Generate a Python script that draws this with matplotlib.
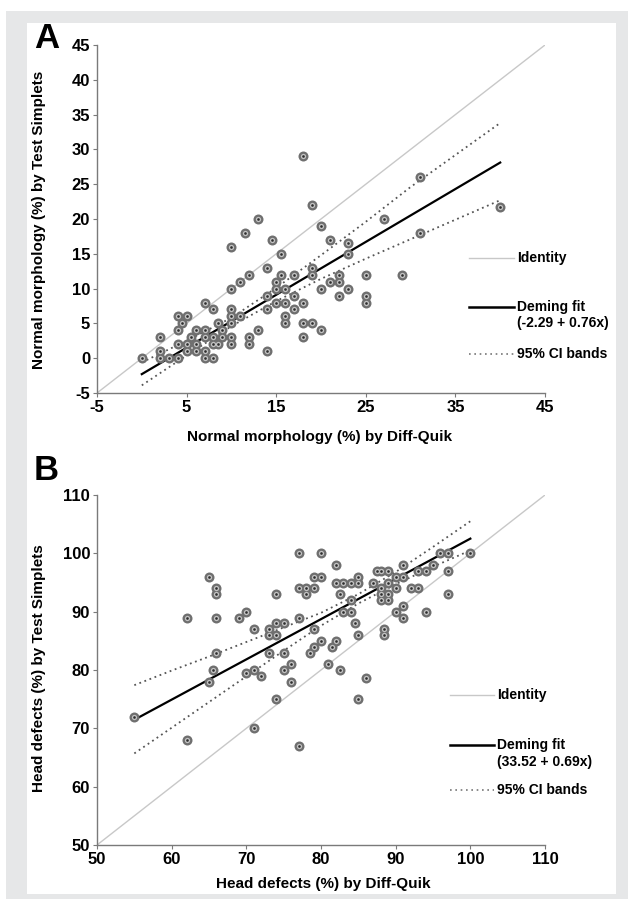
import matplotlib
matplotlib.use("Agg")
import matplotlib.pyplot as plt
from matplotlib.lines import Line2D
from matplotlib.patches import Rectangle
import numpy as np

plt.rcParams['font.family'] = ['Liberation Sans', 'DejaVu Sans']
plt.rcParams['font.weight'] = 'bold'
plt.rcParams['axes.unicode_minus'] = False

# ---------------- Panel A data ----------------
a_x = [0, 2, 2, 2, 3, 4, 4, 4, 4, 5, 4.5, 5, 5, 5.5, 6, 6, 6, 7, 7, 7, 7, 7, 8, 8, 8, 8,
       8.5, 8.5, 9, 9, 10, 10, 10, 10, 10, 10, 10, 11, 11, 11.5, 12, 12, 12, 13, 13,
       14, 14, 14, 14, 14.5, 15.5, 15.5, 15, 15, 15, 16, 16, 16, 16, 17, 17, 17,
       18, 18, 18, 18, 19, 19, 19, 19, 20, 20, 20, 21, 21, 22, 22, 22, 23, 23, 23,
       25, 25, 25, 27, 29, 31, 31, 40]
a_y = [0, 3, 1, 0, 0, 0, 2, 4, 6, 6, 5, 2, 1, 3, 4, 2, 1, 4, 3, 1, 8, 0, 0, 3, 2, 7,
       5, 2, 4, 3, 2, 3, 5, 6, 7, 10, 16, 6, 11, 18, 12, 3, 2, 20, 4,
       13, 9, 7, 1, 17, 15, 12, 11, 10, 8, 10, 8, 6, 5, 12, 9, 7,
       29, 8, 5, 3, 22, 13, 12, 5, 19, 10, 4, 17, 11, 12, 11, 9, 16.5, 15, 10,
       12, 9, 8, 20, 12, 26, 18, 21.7]
a_intercept, a_slope = -2.29, 0.76
a_fit_x = [0, 40]
a_ci_x = [0, 5, 10, 15, 20, 25, 30, 35, 40]
a_ci_upper = [-0.6, 2.5, 5.8, 10.1, 14.8, 19.6, 24.6, 29.2, 33.8]
a_ci_lower = [-3.9, 0.4, 4.6, 8.2, 11.4, 14.3, 17.1, 19.9, 22.7]
a_ticks = [-5, 0, 5, 10, 15, 20, 25, 30, 35, 40, 45]
a_xticks = [-5, 5, 15, 25, 35, 45]

# ---------------- Panel B data ----------------
b_x = [55, 62, 62, 65, 66, 66, 66, 66, 65.5, 65, 69, 70, 71, 71, 71, 70, 72, 73, 73, 73,
       74, 74, 74, 74, 75, 75, 75, 76, 76, 77, 77, 77, 77, 78, 78, 79, 79, 79, 79, 78.5,
       80, 80, 80, 81, 81.5, 82, 82, 82, 82.5, 82.5, 83, 83, 84, 84, 84, 84.5, 85, 85, 85,
       85, 86, 87, 87.5, 88, 88, 88, 88, 89, 89, 89, 89, 88.5, 88.5, 90, 90, 90, 91, 91,
       91, 91, 92, 93, 93, 94, 94, 95, 96, 97, 97, 97, 100]
b_y = [72, 89, 68, 96, 94, 93, 89, 83, 80, 78, 89, 90, 87, 80, 70, 79.5, 79, 87, 86, 83,
       93, 88, 86, 75, 88, 83, 80, 81, 78, 100, 94, 89, 67, 94, 93, 94, 96, 87, 84, 83,
       100, 96, 85, 81, 84, 98, 95, 85, 93, 80, 95, 90, 95, 92, 90, 88, 96, 95, 86,
       75, 78.6, 95, 97, 97, 94, 93, 92, 97, 95, 93, 92, 87, 86, 96, 94, 90, 98, 96,
       91, 89, 94, 97, 94, 97, 90, 98, 100, 100, 97, 93, 100]
b_intercept, b_slope = 33.52, 0.69
b_fit_x = [55, 100]
b_ci_x = [55, 60, 65, 70, 75, 80, 85, 90, 95, 100]
b_ci_upper = [77.4, 79.9, 82.3, 84.8, 87.3, 89.8, 93.0, 96.8, 101.1, 105.5]
b_ci_lower = [65.7, 70.1, 74.5, 78.9, 83.3, 87.6, 91.4, 94.7, 97.7, 100.5]
b_ticks = [50, 60, 70, 80, 90, 100, 110]

W, H = 628, 899
fig = plt.figure(figsize=(W / 100, H / 100), dpi=100)
fig.patch.set_facecolor('white')


def fx(px):
    return px / W


def fy(py):
    return 1 - py / H


# background frame
fig.add_artist(Rectangle((fx(6), fy(899)), fx(622), 888 / H, transform=fig.transFigure,
                         facecolor='#e6e7e8', edgecolor='none', zorder=-10))
fig.add_artist(Rectangle((fx(27), fy(894)), fx(589), 871 / H, transform=fig.transFigure,
                         facecolor='white', edgecolor='none', zorder=-9))

ax_a = fig.add_axes([fx(97), fy(393), fx(448), 348 / H])
ax_b = fig.add_axes([fx(97), fy(845), fx(448), 350 / H])

ident_c = '#c8c8c8'
ci_c = '#555555'


def style(ax, xlim, ylim, xticks, yticks):
    ax.set_xlim(*xlim)
    ax.set_ylim(*ylim)
    ax.set_xticks(xticks)
    ax.set_yticks(yticks)
    ax.patch.set_alpha(0)
    for s in ['top', 'right']:
        ax.spines[s].set_visible(False)
    for s in ['left', 'bottom']:
        ax.spines[s].set_color('#7a7a7a')
        ax.spines[s].set_linewidth(1.0)
    ax.tick_params(direction='out', length=3, width=0.8, color='#7a7a7a',
                   labelsize=12, pad=2)
    for lab in ax.get_xticklabels() + ax.get_yticklabels():
        lab.set_fontweight('bold')


def scatter(ax, x, y):
    ax.plot(x, y, 'o', ms=7.2, color='#6f6f6f', mec='none', zorder=5, clip_on=False)
    ax.plot(x, y, 'o', ms=3.8, color='#c4c4c4', mec='none', zorder=6, clip_on=False)
    ax.plot(x, y, 'o', ms=1.9, color='#2e2e2e', mec='none', zorder=7, clip_on=False)


# ---------------- Panel A ----------------
style(ax_a, (-5, 45), (-5, 45), a_xticks, a_ticks)
ax_a.plot([-5, 45], [-5, 45], color=ident_c, lw=1.0, zorder=2)
fx_a = np.array(a_fit_x, dtype=float)
ax_a.plot(fx_a, a_intercept + a_slope * fx_a, color='black', lw=1.6, zorder=3)
ax_a.plot(a_ci_x, a_ci_upper, color=ci_c, lw=1.3, ls=(0, (1, 2)), zorder=3)
ax_a.plot(a_ci_x, a_ci_lower, color=ci_c, lw=1.3, ls=(0, (1, 2)), zorder=3)
scatter(ax_a, a_x, a_y)
ax_a.set_xlabel('Normal morphology (%) by Diff-Quik', fontsize=11, fontweight='bold', va='center')
ax_a.set_ylabel('Normal morphology (%) by Test Simplets', fontsize=11, fontweight='bold', va='center')
ax_a.xaxis.set_label_coords((320 - 97) / 448, -(437 - 393) / 348)
ax_a.yaxis.set_label_coords((39 - 97) / 448, 1 - (220 - 45) / 348)

# ---------------- Panel B ----------------
style(ax_b, (50, 110), (50, 110), b_ticks, b_ticks)
ax_b.plot([50, 110], [50, 110], color=ident_c, lw=1.0, zorder=2)
fx_b = np.array(b_fit_x, dtype=float)
ax_b.plot(fx_b, b_intercept + b_slope * fx_b, color='black', lw=1.6, zorder=3)
ax_b.plot(b_ci_x, b_ci_upper, color=ci_c, lw=1.3, ls=(0, (1, 2)), zorder=3)
ax_b.plot(b_ci_x, b_ci_lower, color=ci_c, lw=1.3, ls=(0, (1, 2)), zorder=3)
scatter(ax_b, b_x, b_y)
ax_b.set_xlabel('Head defects (%) by Diff-Quik', fontsize=11, fontweight='bold', va='center')
ax_b.set_ylabel('Head defects (%) by Test Simplets', fontsize=11, fontweight='bold', va='center')
ax_b.xaxis.set_label_coords((323 - 97) / 448, -(884 - 845) / 350)
ax_b.yaxis.set_label_coords((39 - 97) / 448, 1 - (668 - 495) / 350)

# panel letters
fig.text(fx(47), fy(38), 'A', fontsize=25, fontweight='bold', ha='center', va='center')
fig.text(fx(46), fy(471), 'B', fontsize=25, fontweight='bold', ha='center', va='center')


# legends (manual, as in the original figure)
def legend(x0, x1, tx, y_id, y_fit, y_fit2, y_ci, eq):
    fig.add_artist(Line2D([fx(x0), fx(x1)], [fy(y_id)] * 2, color=ident_c, lw=1.0,
                          transform=fig.transFigure))
    fig.add_artist(Line2D([fx(x0), fx(x1)], [fy(y_fit)] * 2, color='black', lw=1.8,
                          transform=fig.transFigure))
    fig.add_artist(Line2D([fx(x0), fx(x1)], [fy(y_ci)] * 2, color='#777777', lw=1.2,
                          ls=(0, (1, 2.2)), transform=fig.transFigure))
    kw = dict(fontsize=10, fontweight='bold', ha='left', va='center')
    fig.text(fx(tx), fy(y_id), 'Identity', **kw)
    fig.text(fx(tx), fy(y_fit), 'Deming fit', **kw)
    fig.text(fx(tx), fy(y_fit2), eq, **kw)
    fig.text(fx(tx), fy(y_ci), '95% CI bands', **kw)


legend(469, 514, 517, 258, 307, 323, 354, '(-2.29 + 0.76x)')
legend(450, 494, 497, 695, 745, 762, 790, '(33.52 + 0.69x)')

fig.savefig('out.png', dpi=100, facecolor=fig.get_facecolor())
